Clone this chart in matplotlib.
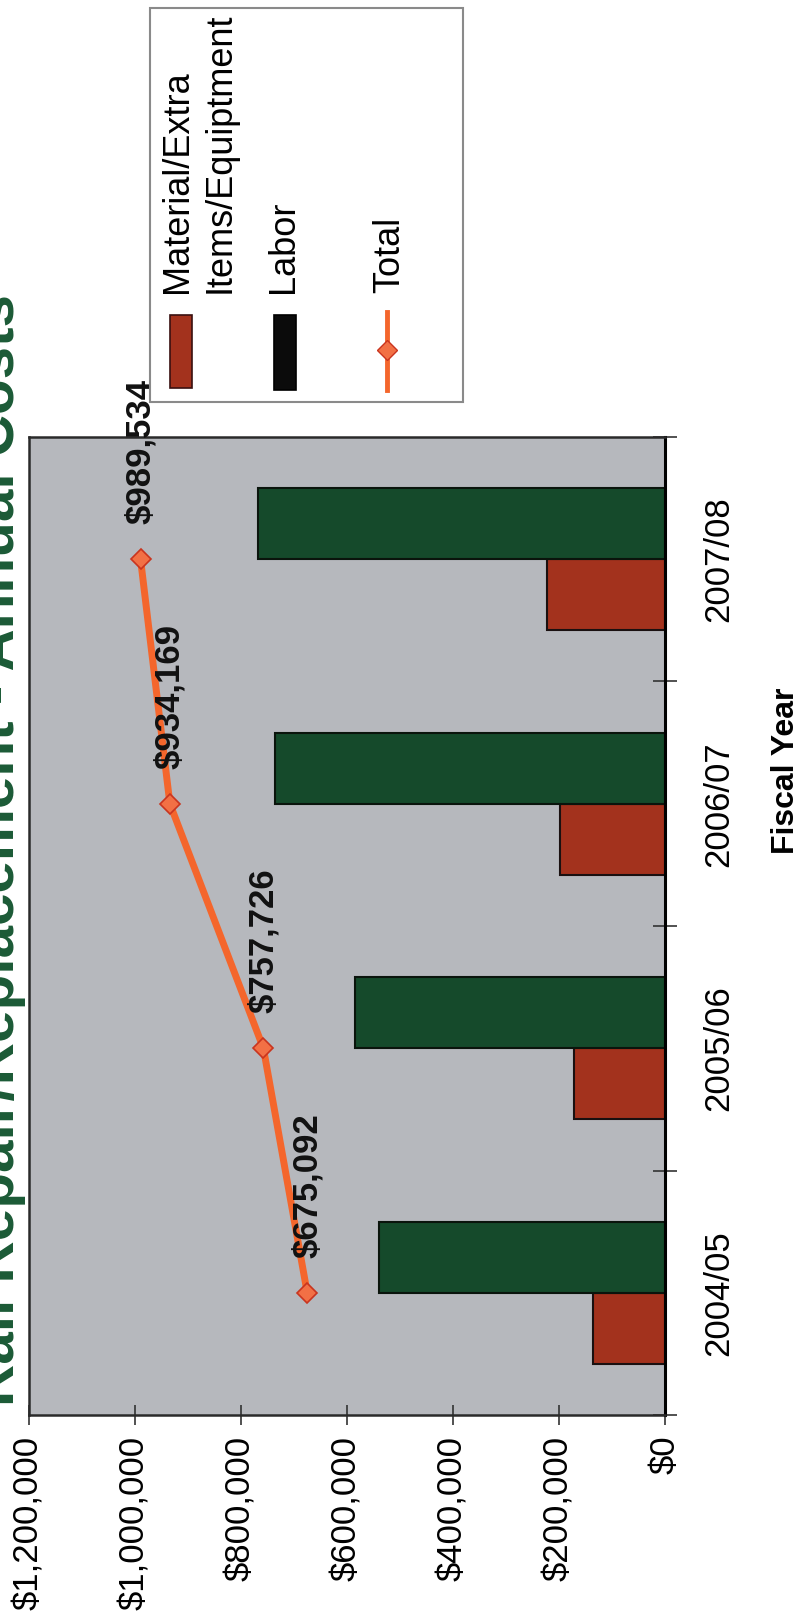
import matplotlib
matplotlib.use('Agg')
import matplotlib.pyplot as plt
from matplotlib.patches import Rectangle
from matplotlib.lines import Line2D
import numpy as np

plt.rcParams['font.family'] = ['Liberation Sans', 'DejaVu Sans']

# ---- data ----
years = ['2004/05', '2005/06', '2006/07', '2007/08']
material = [135000, 172000, 199000, 222000]
labor = [540092, 585726, 735169, 767534]
total = [675092, 757726, 934169, 989534]
value_ticks = [0, 200000, 400000, 600000, 800000, 1000000, 1200000]
value_tick_labels = ['$0', '$200,000', '$400,000', '$600,000', '$800,000',
                     '$1,000,000', '$1,200,000']
legend_labels = ['Material/Extra\nItems/Equiptment', 'Labor', 'Total']
title = 'Rail Repair/Replacement - Annual Costs'
axis_label = 'Fiscal Year'

# ---- style ----
RED = '#A3321D'
GREEN = '#154A2B'
ORANGE = '#F4662C'
MK_FACE = '#F27045'
MK_EDGE = '#C9341F'
PLOT_BG = '#B6B8BD'
TITLE_C = '#1B5A36'

W, H = 799, 1619
fig = plt.figure(figsize=(W / 100, H / 100), dpi=100)
fig.patch.set_facecolor('white')


def fx(px):
    return px / W


def fy(py):
    return 1 - py / H


ax = fig.add_axes([fx(29), fy(1415), fx(665) - fx(29), fy(437) - fy(1415)])
ax.set_facecolor(PLOT_BG)

pos = np.arange(len(years))
bw = 0.29
ax.barh(pos - bw / 2, material, height=bw, color=RED, edgecolor='#1a1010',
        linewidth=1.5, zorder=2)
ax.barh(pos + bw / 2, labor, height=bw, color=GREEN, edgecolor='#0a140c',
        linewidth=1.5, zorder=2)
ax.plot(total, pos, color=ORANGE, linewidth=5, marker='D', markersize=10,
        markerfacecolor=MK_FACE, markeredgecolor=MK_EDGE, markeredgewidth=1.2,
        zorder=3)
for v, p in zip(total, pos):
    ax.annotate(f'${v:,}', (v, p), xytext=(0, 35), textcoords='offset pixels',
                rotation=90, ha='center', va='bottom', fontsize=25,
                fontweight='bold', color='#111111', zorder=4,
                annotation_clip=False)

ax.set_xlim(1200000, 0)
ax.set_ylim(-0.5, len(years) - 0.5)

ax.set_xticks(value_ticks)
ax.set_xticklabels(value_tick_labels, rotation=90, fontsize=25)
ax.tick_params(axis='x', direction='inout', length=14, width=1.2,
               color='#333333', pad=8)

ax.yaxis.tick_right()
ax.set_yticks(pos)
ax.set_yticklabels(years, fontsize=25)
for lbl in ax.get_yticklabels():
    lbl.set_rotation(90)
    lbl.set_va('center')
ax.set_yticks(np.arange(-0.5, len(years)), minor=True)
ax.tick_params(axis='y', which='major', length=0, pad=27)
ax.tick_params(axis='y', which='minor', direction='inout', length=17,
               width=1.2, color='#333333', right=True, left=False)

for side, sp in ax.spines.items():
    sp.set_color('#2a2a2a')
    sp.set_linewidth(1.8)
ax.spines['right'].set_color('#000000')
ax.spines['right'].set_linewidth(2.2)

fig.text(fx(786), fy(771), axis_label, rotation=90, ha='center', va='center',
         fontsize=23, fontweight='bold')

fig.text(fx(26), fy(850), title, rotation=90, ha='right', va='center',
         fontsize=42, fontweight='bold', color=TITLE_C)

# ---- legend (drawn rotated like the chart) ----
fig.add_artist(Rectangle((fx(150), fy(402)), fx(463) - fx(150), fy(8) - fy(402),
                         transform=fig.transFigure, facecolor='white',
                         edgecolor='#8a8a8a', linewidth=1.5))
fig.add_artist(Rectangle((fx(170), fy(388)), fx(192) - fx(170), fy(315) - fy(388),
                         transform=fig.transFigure, facecolor=RED,
                         edgecolor='#3a1010', linewidth=1.2))
fig.add_artist(Rectangle((fx(274), fy(390)), fx(296) - fx(274), fy(315) - fy(390),
                         transform=fig.transFigure, facecolor='#0b0b0b',
                         edgecolor='#000000', linewidth=1.2))
fig.add_artist(Line2D([fx(387), fx(387)], [fy(390), fy(312)],
                      transform=fig.transFigure, color=ORANGE, linewidth=3.5))
fig.add_artist(Line2D([fx(387)], [fy(350)], transform=fig.transFigure,
                      marker='D', markersize=10, markerfacecolor=MK_FACE,
                      markeredgecolor=MK_EDGE, linestyle='none'))
fig.text(fx(160), fy(293), legend_labels[0], rotation=90, ha='left', va='bottom',
         fontsize=26, linespacing=1.3, multialignment='left')
fig.text(fx(266), fy(293), legend_labels[1], rotation=90, ha='left', va='bottom',
         fontsize=26)
fig.text(fx(372), fy(293), legend_labels[2], rotation=90, ha='left', va='bottom',
         fontsize=26)

fig.savefig('out.png', dpi=100, facecolor='white')
